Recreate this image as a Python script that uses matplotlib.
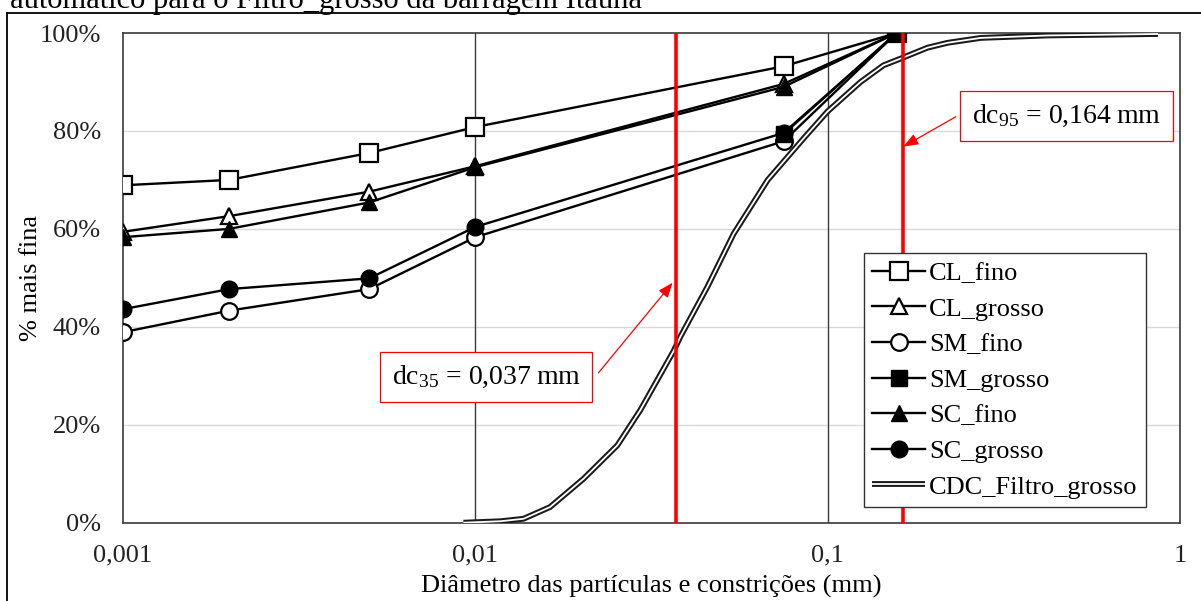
import matplotlib
matplotlib.use("Agg")
import matplotlib.pyplot as plt
import matplotlib.patheffects as pe
from matplotlib.lines import Line2D
from matplotlib.ticker import FixedLocator, FixedFormatter

plt.rcParams["font.family"] = ["Liberation Serif", "DejaVu Serif"]
plt.rcParams["mathtext.fontset"] = "custom"
plt.rcParams["mathtext.rm"] = "Liberation Serif"
plt.rcParams["mathtext.it"] = "Liberation Serif:italic"

# Particle diameters (mm) of the soil gradation points
sizes = [0.001, 0.002, 0.005, 0.01, 0.075, 0.157]
cl_fino = [68.9, 70.0, 75.5, 80.8, 93.2, 100.0]
cl_grosso = [59.4, 62.6, 67.6, 72.8, 89.6, 100.0]
sm_fino = [38.9, 43.3, 47.7, 58.3, 77.9, 100.0]
sm_grosso_sizes = [0.075, 0.157]
sm_grosso = [79.4, 100.0]
sc_fino = [58.3, 60.0, 65.4, 72.6, 89.0, 100.0]
sc_grosso = [43.6, 47.7, 49.9, 60.4, 79.6, 100.0]

# Constriction size distribution of the coarse filter
cdc_sizes = [0.00925, 0.0118, 0.0137, 0.0163, 0.0203, 0.0253, 0.0294, 0.0365,
             0.0382, 0.0456, 0.0541, 0.0676, 0.0855, 0.100, 0.124, 0.144,
             0.164, 0.192, 0.219, 0.272, 0.422, 0.866]
cdc_pass = [0.0, 0.3, 0.8, 3.2, 9.0, 15.8, 23.0, 35.0,
            38.0, 48.2, 59.0, 70.0, 78.5, 84.0, 90.0, 93.4,
            95.0, 97.0, 98.0, 99.0, 99.5, 99.8]

dc35 = 0.037
dc95 = 0.164

x_ticks = [0.001, 0.01, 0.1, 1]
x_ticklabels = ["0,001", "0,01", "0,1", "1"]
y_ticks = [0, 20, 40, 60, 80, 100]
y_ticklabels = ["0%", "20%", "40%", "60%", "80%", "100%"]

W, H = 1201, 601
fig = plt.figure(figsize=(W / 100, H / 100), dpi=100)
ax = fig.add_axes([123 / W, 1 - 522.7 / H, 1057 / W, 489.7 / H])

ax.set_xscale("log")
ax.set_xlim(0.001, 1)
ax.set_ylim(0, 100)

# grid: light horizontal lines, dark vertical decade lines
for yv in y_ticks[1:-1]:
    ax.axhline(yv, color="#d9d9d9", lw=1.0, zorder=0)
for xv in x_ticks[1:-1]:
    ax.axvline(xv, color="#3a3a3a", lw=1.0, zorder=0)

blk = "black"
lw = 1.7
ax.plot(sizes, cl_fino, color=blk, lw=lw, marker="s", ms=13, mfc="white",
        mec=blk, mew=1.6, label="CL_fino", zorder=3)
ax.plot(sizes, cl_grosso, color=blk, lw=lw, marker="^", ms=12, mfc="white",
        mec=blk, mew=1.6, label="CL_grosso", zorder=3)
ax.plot(sizes, sm_fino, color=blk, lw=lw, marker="o", ms=12, mfc="white",
        mec=blk, mew=1.6, label="SM_fino", zorder=3)
ax.plot(sm_grosso_sizes, sm_grosso, color=blk, lw=lw, marker="s", ms=12,
        mfc=blk, mec=blk, label="SM_grosso", zorder=3)
ax.plot(sizes, sc_fino, color=blk, lw=lw, marker="^", ms=11, mfc=blk,
        mec=blk, label="SC_fino", zorder=3)
ax.plot(sizes, sc_grosso, color=blk, lw=lw, marker="o", ms=12, mfc=blk,
        mec=blk, label="SC_grosso", zorder=3)
ax.plot(cdc_sizes, cdc_pass, color="white", lw=1.3, label="CDC_Filtro_grosso",
        zorder=4, solid_capstyle="butt", solid_joinstyle="round",
        path_effects=[pe.Stroke(linewidth=4.2, foreground="#1a1a1a"), pe.Normal()])

# characteristic constriction sizes
for d in (dc35, dc95):
    ax.plot([d, d], [0, 100], color="#ff0000", lw=2.6, zorder=5,
            solid_capstyle="butt")

red = "#ff0000"
box = dict(boxstyle="square,pad=0.42", fc="white", ec=red, lw=0.9)
arrow = dict(arrowstyle="-|>,head_length=0.9,head_width=0.35", color=red,
             lw=0.9, shrinkA=0, shrinkB=0)
ax.annotate("", xy=(0.0363, 49.0), xytext=(0.02236, 30.6),
            arrowprops=arrow, zorder=6)
ax.text(0.01075, 29.7, "dc$_{35}$ = 0,037\u2009mm", fontsize=20, ha="center",
        va="center", bbox=box, zorder=7)
ax.annotate("", xy=(0.164, 76.8), xytext=(0.2311, 82.9),
            arrowprops=arrow, zorder=6)
ax.text(0.476, 83.1, "dc$_{95}$ = 0,164\u2009mm", fontsize=20, ha="center",
        va="center", bbox=box, zorder=7)

ax.xaxis.set_major_locator(FixedLocator(x_ticks))
ax.xaxis.set_major_formatter(FixedFormatter(x_ticklabels))
ax.xaxis.set_minor_locator(FixedLocator([]))
ax.yaxis.set_major_locator(FixedLocator(y_ticks))
ax.yaxis.set_major_formatter(FixedFormatter(y_ticklabels))
ax.tick_params(axis="both", length=0, labelsize=19, colors="#222222")
ax.tick_params(axis="y", pad=16)
ax.tick_params(axis="x", pad=16)

for s in ax.spines.values():
    s.set_color("#3a3a3a")
    s.set_linewidth(1.2)

ax.set_xlabel("Diâmetro das partículas e constrições (mm)", fontsize=19,
              labelpad=6)
ax.set_ylabel("% mais fina", fontsize=19, labelpad=-2)

leg = ax.legend(loc="upper left", bbox_to_anchor=((864 - 123) / 1057,
                (522.7 - 253) / 489.7), borderaxespad=0, fontsize=19,
                frameon=True, fancybox=False, edgecolor="#333333",
                handlelength=2.0, handletextpad=0.15, labelspacing=0.46,
                borderpad=0.32, framealpha=1)
leg.get_frame().set_linewidth(1.0)
leg.set_zorder(8)

# caption line and page frame above the chart
fig.text(10 / W, 1 - 8 / H, "automático para o Filtro_grosso da barragem Itaúna",
         fontsize=22, ha="left", va="baseline")
fig.add_artist(Line2D([7 / W, 7 / W], [0, 1 - 13 / H], color="black", lw=1.3,
                      transform=fig.transFigure))
fig.add_artist(Line2D([7 / W, 1], [1 - 13 / H, 1 - 13 / H], color="black",
                      lw=1.3, transform=fig.transFigure))

fig.savefig("out.png", dpi=100)
